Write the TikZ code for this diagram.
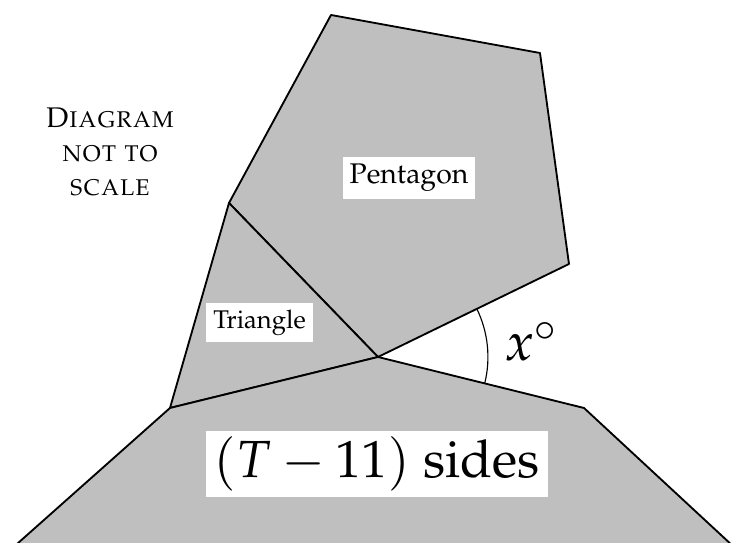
\documentclass[tikz,border=0pt]{standalone}
\usepackage[T1]{fontenc}
\usepackage{mathpazo}
\usetikzlibrary{angles}
\begin{document}
\begin{tikzpicture}[x=0.352pt,y=-0.352pt,
  poly/.style={fill=lightgray,draw=black,line width=0.65pt,line join=round},
  lbl/.style={fill=white,inner sep=2.5pt}]
\useasboundingbox (0,0) rectangle (732,543);
\clip (0,0) rectangle (732,543);
\coordinate (P1) at (331,15);
\coordinate (P2) at (540,53);
\coordinate (P3) at (569,264);
\coordinate (O) at (378,357);
\coordinate (P5) at (229,203);
\coordinate (L) at (170,408);
\coordinate (R) at (584,408);
\coordinate (BL) at (-1,560);
\coordinate (BR) at (748,560);
\path[poly] (P1)--(P2)--(P3)--(O)--(P5)--cycle;
\path[poly] (P5)--(O)--(L)--cycle;
\path[poly] (L)--(O)--(R)--(BR)--(BL)--cycle;
\pic[draw,line width=0.4pt,angle radius=38.7pt] {angle=R--O--P3};
\node[lbl] (pent) at (409,178) {Pentagon};
\node[lbl,font=\small] (tri) at (259.5,322.5) {Triangle};
\node[fill=white,inner xsep=3pt,inner ysep=2pt,font=\fontsize{18.4}{22}\selectfont] (sides) at (377,464) {$(T-11)$ sides};
\node[anchor=base west,inner sep=0pt,font=\fontsize{19}{23}\selectfont] (x) at (504,361) {$x^\circ$};
\node[align=center,inner sep=0pt] (note) at (110,152) {\textsc{Diagram}\\\textsc{not to}\\\textsc{scale}};
\end{tikzpicture}
\end{document}
